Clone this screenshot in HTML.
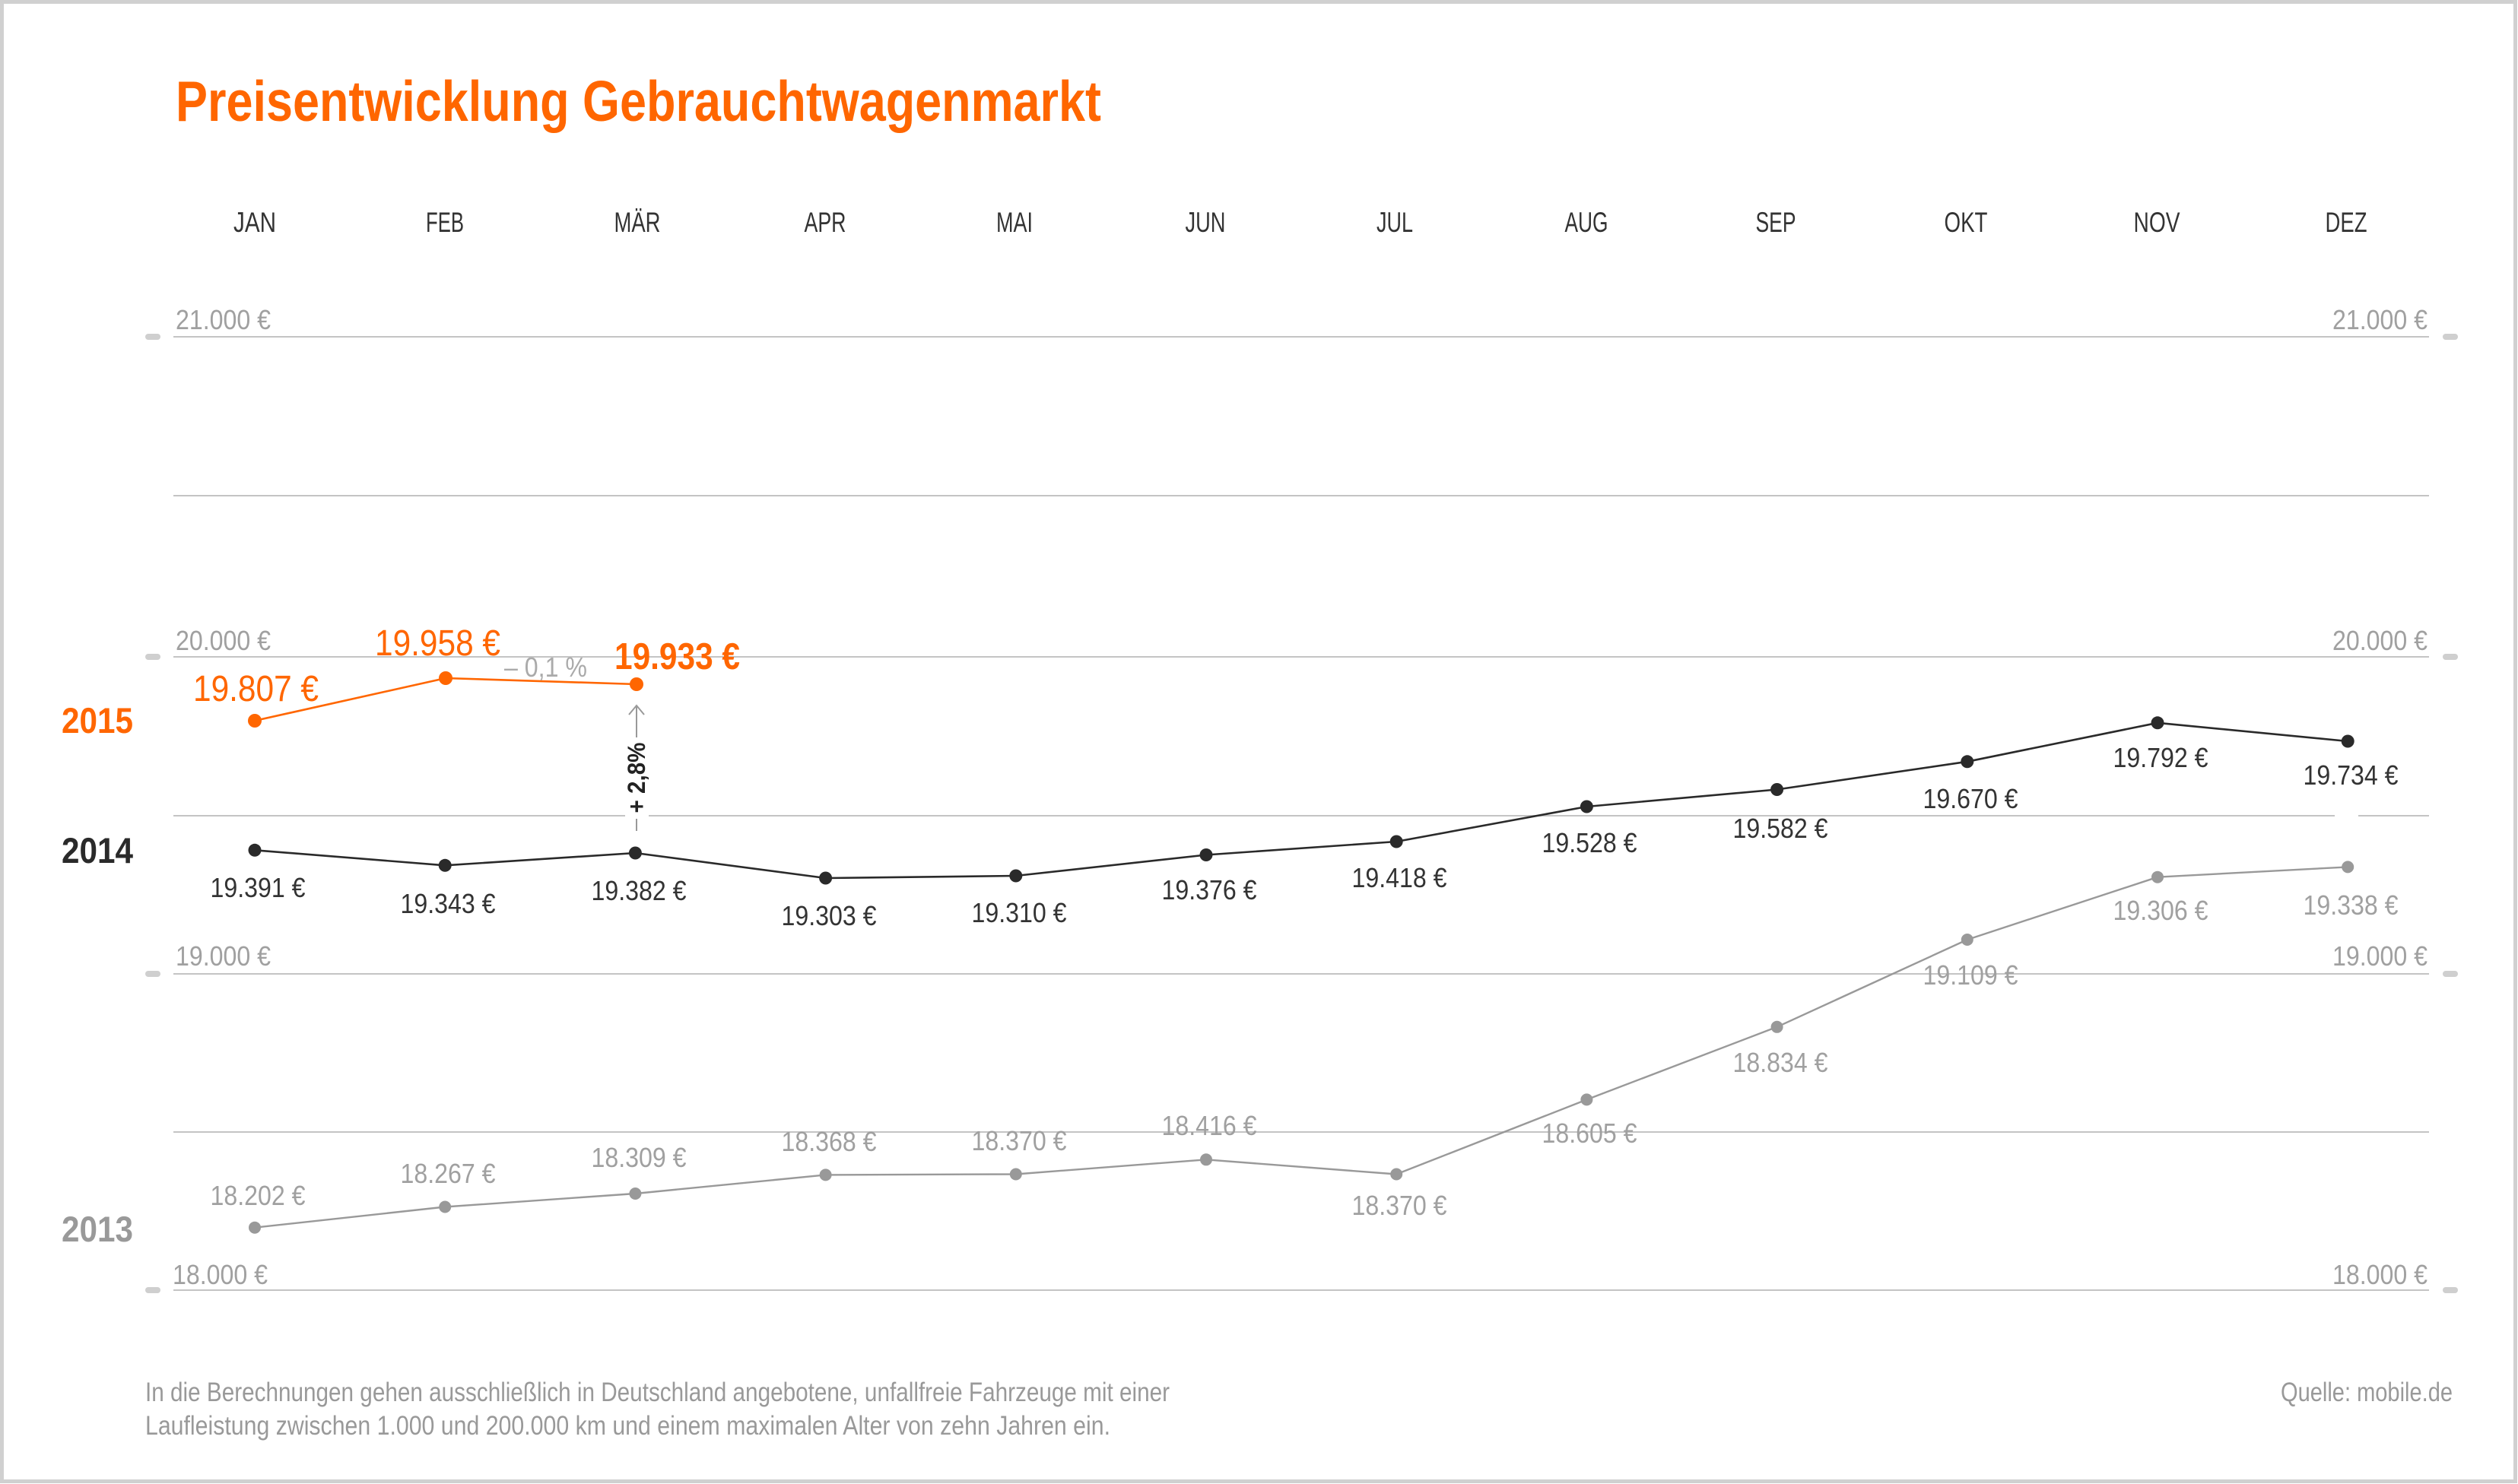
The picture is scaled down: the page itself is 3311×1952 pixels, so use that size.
<!DOCTYPE html>
<html>
<head>
<meta charset="utf-8">
<style>
html,body{margin:0;padding:0;background:#fff;}
svg{display:block;}
text{font-family:"Liberation Sans Narrow","Liberation Sans",sans-serif;}
</style>
</head>
<body>
<svg width="3311" height="1952" viewBox="0 0 3311 1952" xmlns="http://www.w3.org/2000/svg">
<rect x="0" y="0" width="3311" height="1952" fill="#fff"/>
<rect x="2.5" y="2.5" width="3305" height="1946" fill="none" stroke="#d0d0d0" stroke-width="5"/>

<!-- Title -->
<text x="231" y="159" font-size="75" font-weight="bold" fill="#ff6600" textLength="1217" lengthAdjust="spacingAndGlyphs">Preisentwicklung Gebrauchtwagenmarkt</text>

<!-- Months -->
<g font-size="37" fill="#333" text-anchor="middle">
<text x="335" y="305" textLength="56" lengthAdjust="spacingAndGlyphs">JAN</text>
<text x="585" y="305" textLength="50" lengthAdjust="spacingAndGlyphs">FEB</text>
<text x="838" y="305" textLength="61" lengthAdjust="spacingAndGlyphs">MÄR</text>
<text x="1085" y="305" textLength="55" lengthAdjust="spacingAndGlyphs">APR</text>
<text x="1334" y="305" textLength="48" lengthAdjust="spacingAndGlyphs">MAI</text>
<text x="1585" y="305" textLength="53" lengthAdjust="spacingAndGlyphs">JUN</text>
<text x="1834" y="305" textLength="48" lengthAdjust="spacingAndGlyphs">JUL</text>
<text x="2086" y="305" textLength="57" lengthAdjust="spacingAndGlyphs">AUG</text>
<text x="2335" y="305" textLength="53" lengthAdjust="spacingAndGlyphs">SEP</text>
<text x="2585" y="305" textLength="57" lengthAdjust="spacingAndGlyphs">OKT</text>
<text x="2836" y="305" textLength="61" lengthAdjust="spacingAndGlyphs">NOV</text>
<text x="3085" y="305" textLength="55" lengthAdjust="spacingAndGlyphs">DEZ</text>
</g>

<!-- Gridlines -->
<g stroke="#c4c4c4" stroke-width="2">
<line x1="228" y1="443" x2="3194" y2="443"/>
<line x1="228" y1="652" x2="3194" y2="652"/>
<line x1="228" y1="864" x2="3194" y2="864"/>
<line x1="228" y1="1073" x2="3194" y2="1073"/>
<line x1="228" y1="1281" x2="3194" y2="1281"/>
<line x1="228" y1="1489" x2="3194" y2="1489"/>
<line x1="228" y1="1697" x2="3194" y2="1697"/>
</g>
<!-- gaps -->
<rect x="822" y="1066" width="31" height="14" fill="#fff"/>
<rect x="3070" y="1066" width="31" height="14" fill="#fff"/>

<!-- Ticks -->
<g fill="#cfcfcf">
<rect x="191" y="439" width="20" height="8" rx="4"/>
<rect x="191" y="860" width="20" height="8" rx="4"/>
<rect x="191" y="1277" width="20" height="8" rx="4"/>
<rect x="191" y="1693" width="20" height="8" rx="4"/>
<rect x="3212" y="439" width="20" height="8" rx="4"/>
<rect x="3212" y="860" width="20" height="8" rx="4"/>
<rect x="3212" y="1277" width="20" height="8" rx="4"/>
<rect x="3212" y="1693" width="20" height="8" rx="4"/>
</g>

<!-- Axis labels -->
<g font-size="36" fill="#a0a0a0">
<text x="231" y="433" textLength="125" lengthAdjust="spacingAndGlyphs">21.000 €</text>
<text x="231" y="855" textLength="125" lengthAdjust="spacingAndGlyphs">20.000 €</text>
<text x="231" y="1270" textLength="125" lengthAdjust="spacingAndGlyphs">19.000 €</text>
<text x="227" y="1689" textLength="125" lengthAdjust="spacingAndGlyphs">18.000 €</text>
</g>
<g font-size="36" fill="#a0a0a0" text-anchor="end">
<text x="3192" y="433" textLength="125" lengthAdjust="spacingAndGlyphs">21.000 €</text>
<text x="3192" y="855" textLength="125" lengthAdjust="spacingAndGlyphs">20.000 €</text>
<text x="3192" y="1270" textLength="125" lengthAdjust="spacingAndGlyphs">19.000 €</text>
<text x="3192" y="1689" textLength="125" lengthAdjust="spacingAndGlyphs">18.000 €</text>
</g>

<!-- Year labels -->
<g font-size="47" font-weight="bold">
<text x="81" y="964" fill="#ff6600" textLength="94" lengthAdjust="spacingAndGlyphs">2015</text>
<text x="81" y="1135" fill="#2a2a2a" textLength="94" lengthAdjust="spacingAndGlyphs">2014</text>
<text x="81" y="1633" fill="#999" textLength="94" lengthAdjust="spacingAndGlyphs">2013</text>
</g>

<!-- 2013 series -->
<polyline fill="none" stroke="#999" stroke-width="2.4" stroke-linejoin="round"
 points="335,1614.7 585.2,1587.5 835.4,1570 1085.6,1545.4 1335.8,1544.5 1586,1525.3 1836.2,1544.5 2086.4,1446.4 2336.6,1350.8 2586.8,1236 2837,1153.7 3087.2,1140.4"/>
<g fill="#999">
<circle cx="335" cy="1614.7" r="8"/><circle cx="585.2" cy="1587.5" r="8"/><circle cx="835.4" cy="1570" r="8"/>
<circle cx="1085.6" cy="1545.4" r="8"/><circle cx="1335.8" cy="1544.5" r="8"/><circle cx="1586" cy="1525.3" r="8"/>
<circle cx="1836.2" cy="1544.5" r="8"/><circle cx="2086.4" cy="1446.4" r="8"/><circle cx="2336.6" cy="1350.8" r="8"/>
<circle cx="2586.8" cy="1236" r="8"/><circle cx="2837" cy="1153.7" r="8"/><circle cx="3087.2" cy="1140.4" r="8"/>
</g>
<g font-size="36" fill="#a0a0a0" text-anchor="middle">
<text x="339" y="1585" textLength="125" lengthAdjust="spacingAndGlyphs">18.202 €</text>
<text x="589" y="1556" textLength="125" lengthAdjust="spacingAndGlyphs">18.267 €</text>
<text x="840" y="1535" textLength="125" lengthAdjust="spacingAndGlyphs">18.309 €</text>
<text x="1090" y="1514" textLength="125" lengthAdjust="spacingAndGlyphs">18.368 €</text>
<text x="1340" y="1513" textLength="125" lengthAdjust="spacingAndGlyphs">18.370 €</text>
<text x="1590" y="1493" textLength="125" lengthAdjust="spacingAndGlyphs">18.416 €</text>
<text x="1840" y="1598" textLength="125" lengthAdjust="spacingAndGlyphs">18.370 €</text>
<text x="2090" y="1503" textLength="125" lengthAdjust="spacingAndGlyphs">18.605 €</text>
<text x="2341" y="1410" textLength="125" lengthAdjust="spacingAndGlyphs">18.834 €</text>
<text x="2591" y="1295" textLength="125" lengthAdjust="spacingAndGlyphs">19.109 €</text>
<text x="2841" y="1210" textLength="125" lengthAdjust="spacingAndGlyphs">19.306 €</text>
<text x="3091" y="1203" textLength="125" lengthAdjust="spacingAndGlyphs">19.338 €</text>
</g>

<!-- 2014 series -->
<polyline fill="none" stroke="#2a2a2a" stroke-width="2.6" stroke-linejoin="round"
 points="335,1118.3 585.2,1138.3 835.4,1122 1085.6,1155 1335.8,1152 1586,1124.5 1836.2,1107 2086.4,1061 2336.6,1038.5 2586.8,1001.8 2837,950.8 3087.2,975"/>
<g fill="#2a2a2a">
<circle cx="335" cy="1118.3" r="8.5"/><circle cx="585.2" cy="1138.3" r="8.5"/><circle cx="835.4" cy="1122" r="8.5"/>
<circle cx="1085.6" cy="1155" r="8.5"/><circle cx="1335.8" cy="1152" r="8.5"/><circle cx="1586" cy="1124.5" r="8.5"/>
<circle cx="1836.2" cy="1107" r="8.5"/><circle cx="2086.4" cy="1061" r="8.5"/><circle cx="2336.6" cy="1038.5" r="8.5"/>
<circle cx="2586.8" cy="1001.8" r="8.5"/><circle cx="2837" cy="950.8" r="8.5"/><circle cx="3087.2" cy="975" r="8.5"/>
</g>
<g font-size="36" fill="#333" text-anchor="middle">
<text x="339" y="1180" textLength="125" lengthAdjust="spacingAndGlyphs">19.391 €</text>
<text x="589" y="1201" textLength="125" lengthAdjust="spacingAndGlyphs">19.343 €</text>
<text x="840" y="1184" textLength="125" lengthAdjust="spacingAndGlyphs">19.382 €</text>
<text x="1090" y="1217" textLength="125" lengthAdjust="spacingAndGlyphs">19.303 €</text>
<text x="1340" y="1213" textLength="125" lengthAdjust="spacingAndGlyphs">19.310 €</text>
<text x="1590" y="1183" textLength="125" lengthAdjust="spacingAndGlyphs">19.376 €</text>
<text x="1840" y="1167" textLength="125" lengthAdjust="spacingAndGlyphs">19.418 €</text>
<text x="2090" y="1121" textLength="125" lengthAdjust="spacingAndGlyphs">19.528 €</text>
<text x="2341" y="1102" textLength="125" lengthAdjust="spacingAndGlyphs">19.582 €</text>
<text x="2591" y="1063" textLength="125" lengthAdjust="spacingAndGlyphs">19.670 €</text>
<text x="2841" y="1009" textLength="125" lengthAdjust="spacingAndGlyphs">19.792 €</text>
<text x="3091" y="1032" textLength="125" lengthAdjust="spacingAndGlyphs">19.734 €</text>
</g>

<!-- 2015 series -->
<polyline fill="none" stroke="#ff6600" stroke-width="2.6" stroke-linejoin="round"
 points="335,948 586,892 837,900"/>
<g fill="#ff6600">
<circle cx="335" cy="948" r="9"/><circle cx="586" cy="892" r="9"/><circle cx="837" cy="900" r="9"/>
</g>
<text x="254" y="922" font-size="48" fill="#ff6600" textLength="165" lengthAdjust="spacingAndGlyphs">19.807 €</text>
<text x="493" y="862" font-size="48" fill="#ff6600" textLength="165" lengthAdjust="spacingAndGlyphs">19.958 €</text>
<text x="808" y="880" font-size="49" font-weight="bold" fill="#ff6600" textLength="165" lengthAdjust="spacingAndGlyphs">19.933 €</text>
<text x="663" y="890" font-size="36" fill="#aaa" textLength="109" lengthAdjust="spacingAndGlyphs">– 0,1 %</text>

<!-- Arrow +2,8% -->
<g stroke="#999" stroke-width="2" fill="none">
<line x1="837" y1="928" x2="837" y2="970"/>
<polyline points="827,940 837,928 847,940"/>
<line x1="837" y1="1077" x2="837" y2="1093"/>
</g>
<text transform="translate(848,1023) rotate(-90)" x="0" y="0" font-size="32" font-weight="bold" fill="#222" text-anchor="middle" textLength="93" lengthAdjust="spacingAndGlyphs">+ 2,8%</text>

<!-- Footer -->
<g font-size="35" fill="#999">
<text x="191" y="1843" textLength="1347" lengthAdjust="spacingAndGlyphs">In die Berechnungen gehen ausschließlich in Deutschland angebotene, unfallfreie Fahrzeuge mit einer</text>
<text x="191" y="1887" textLength="1269" lengthAdjust="spacingAndGlyphs">Laufleistung zwischen 1.000 und 200.000 km und einem maximalen Alter von zehn Jahren ein.</text>
<text x="3225" y="1843" text-anchor="end" textLength="226" lengthAdjust="spacingAndGlyphs">Quelle: mobile.de</text>
</g>
</svg>
</body>
</html>
